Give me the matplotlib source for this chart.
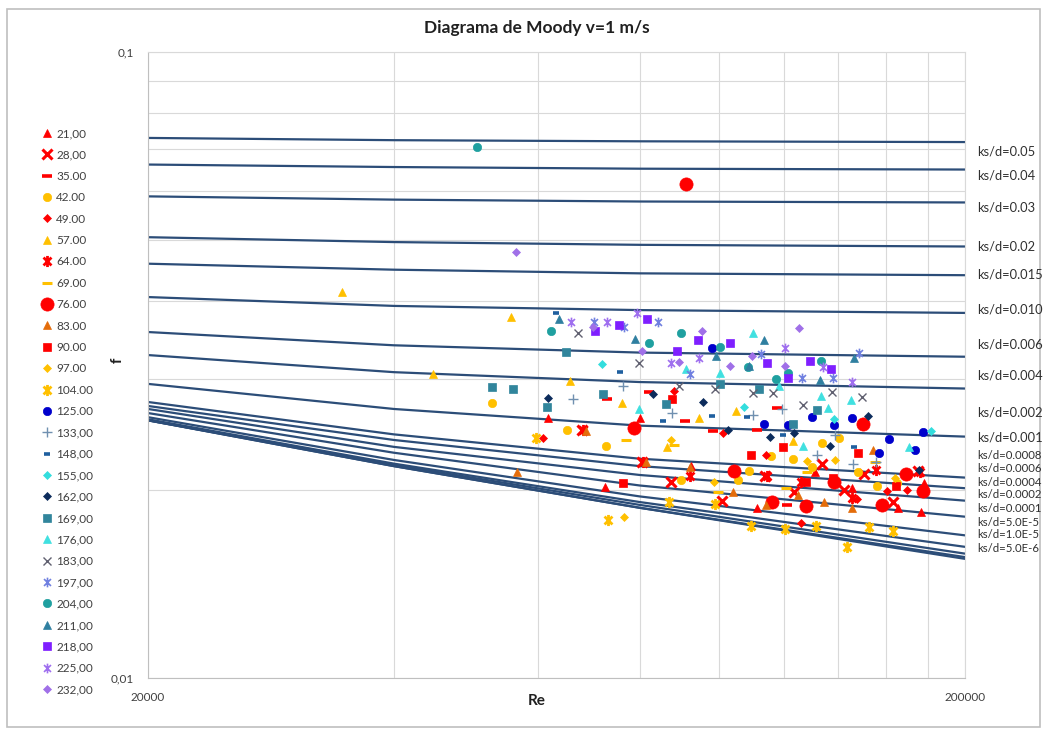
import matplotlib.pyplot as plt
from matplotlib.path import Path
from matplotlib.ticker import FixedLocator, NullFormatter
from matplotlib.patches import Rectangle

plt.rcParams['font.family'] = ['Lato', 'DejaVu Sans']

# ---- Moody lines (f read at a few Re values) ----
re_line = [20000, 40000, 80000, 200000]
ks_labels = ["ks/d=0.05", "ks/d=0.04", "ks/d=0.03", "ks/d=0.02", "ks/d=0.015",
             "ks/d=0.010", "ks/d=0.006", "ks/d=0.004", "ks/d=0.002", "ks/d=0.001",
             "ks/d=0.0008", "ks/d=0.0006", "ks/d=0.0004", "ks/d=0.0002",
             "ks/d=0.0001", "ks/d=5.0E-5", "ks/d=1.0E-5", "ks/d=5.0E-6"]
f_lines = [
    [0.0729, 0.0723, 0.0720, 0.0718],
    [0.0661, 0.0655, 0.0651, 0.0649],
    [0.0588, 0.0581, 0.0577, 0.0575],
    [0.0506, 0.0497, 0.0492, 0.0489],
    [0.0459, 0.0449, 0.0443, 0.0440],
    [0.0406, 0.0393, 0.0387, 0.0383],
    [0.0357, 0.0340, 0.0331, 0.0326],
    [0.0328, 0.0308, 0.0297, 0.0290],
    [0.0295, 0.0269, 0.0253, 0.0243],
    [0.0276, 0.0245, 0.0224, 0.0209],
    [0.0272, 0.0240, 0.0218, 0.0201],
    [0.0269, 0.0234, 0.0211, 0.0192],
    [0.0265, 0.0229, 0.0203, 0.0181],
    [0.0261, 0.0223, 0.0195, 0.0169],
    [0.0259, 0.0220, 0.0191, 0.0162],
    [0.0258, 0.0219, 0.0189, 0.0158],
    [0.0258, 0.0218, 0.0187, 0.0156],
    [0.0258, 0.0218, 0.0187, 0.0155],
]

# ---- measured points, one pair of lists per series ----
re_21 = [61700, 72500, 80000, 92500, 111300, 131100, 145500, 165600, 176700, 178200]
f_21 = [0.0260, 0.0202, 0.0260, 0.0218, 0.0187, 0.0213, 0.0201, 0.0187, 0.0184, 0.0205]
re_28 = [68000, 80500, 87400, 100900, 113800, 123500, 133600, 142200, 150500, 163400, 175200]
f_28 = [0.0249, 0.0221, 0.0206, 0.0192, 0.0210, 0.0198, 0.0220, 0.0200, 0.0212, 0.0191, 0.0214]
re_35 = [72900, 82100, 90900, 98300, 111300, 117700, 121000]
f_35 = [0.0279, 0.0286, 0.0257, 0.0248, 0.0249, 0.0270, 0.0189]
re_42 = [52700, 65200, 72700, 89900, 105500, 108800, 115700, 123100, 129900, 133600,
         140200, 148000, 156100, 165100]
f_42 = [0.0275, 0.0249, 0.0235, 0.0207, 0.0207, 0.0214, 0.0226, 0.0224, 0.0217, 0.0237,
        0.0242, 0.0213, 0.0203, 0.0205]
re_49 = [60800, 88100, 101200, 114100, 126000, 147600, 160500, 169800]
f_49 = [0.0242, 0.0287, 0.0246, 0.0227, 0.0177, 0.0193, 0.0199, 0.0200]
re_57 = [34600, 44700, 55600, 65700, 76000, 86400, 94500, 104900, 123100]
f_57 = [0.0413, 0.0306, 0.0377, 0.0298, 0.0275, 0.0234, 0.0260, 0.0267, 0.0239]
re_64 = [68200, 80700, 92200, 114400, 126000, 145500, 155700, 176200]
f_64 = [0.0249, 0.0221, 0.0210, 0.0210, 0.0206, 0.0194, 0.0215, 0.0213]
re_69 = [76900, 88100, 99700, 120800, 128100, 155100]
f_69 = [0.0240, 0.0236, 0.0198, 0.0201, 0.0213, 0.0221]
re_76 = [91100, 78600, 104300, 116100, 127800, 138300, 150100, 158300, 169400, 177700]
f_76 = [0.0615, 0.0251, 0.0214, 0.0191, 0.0188, 0.0206, 0.0255, 0.0189, 0.0212, 0.0199]
re_83 = [56600, 68800, 81400, 92200, 103900, 114100, 124900, 134400, 145500, 154400]
f_83 = [0.0213, 0.0248, 0.0221, 0.0217, 0.0198, 0.0189, 0.0196, 0.0191, 0.0187, 0.0231]
re_90 = [76200, 87600, 109400, 119700, 127800, 137900, 148000, 164600]
f_90 = [0.0205, 0.0279, 0.0227, 0.0234, 0.0206, 0.0209, 0.0229, 0.0203]
re_97 = [76400, 87400, 98500, 128100, 138700, 164100]
f_97 = [0.0181, 0.0240, 0.0206, 0.0222, 0.0223, 0.0209]
re_104 = [59700, 73100, 86900, 98800, 109400, 120400, 131400, 143400, 152700, 163400]
f_104 = [0.0242, 0.0179, 0.0191, 0.0190, 0.0175, 0.0173, 0.0175, 0.0162, 0.0174, 0.0172]
re_125 = [98000, 113500, 121400, 129900, 138300, 145500, 157000, 161400, 173800, 177700]
f_125 = [0.0337, 0.0255, 0.0254, 0.0261, 0.0254, 0.0260, 0.0229, 0.0241, 0.0231, 0.0247]
re_133 = [66300, 76200, 87600, 110000, 119300, 131800, 138700, 145900, 155700]
f_133 = [0.0279, 0.0293, 0.0265, 0.0263, 0.0269, 0.0227, 0.0244, 0.0220, 0.0221]
re_148 = [63200, 75600, 85400, 98000, 108200, 119700, 146300]
f_148 = [0.0383, 0.0308, 0.0257, 0.0262, 0.0261, 0.0244, 0.0234]
re_155 = [71900, 107300, 138300, 181700]
f_155 = [0.0317, 0.0271, 0.0259, 0.0248]
re_162 = [61700, 83100, 95600, 102600, 115400, 123500, 136700, 152200, 175700]
f_162 = [0.0280, 0.0284, 0.0276, 0.0249, 0.0243, 0.0246, 0.0235, 0.0262, 0.0215]
re_169 = [52800, 55900, 61500, 65000, 72100, 86200, 100300, 112000, 123100, 131800]
f_169 = [0.0292, 0.0289, 0.0271, 0.0332, 0.0284, 0.0274, 0.0295, 0.0290, 0.0255, 0.0268]
re_176 = [79800, 91100, 100300, 110000, 118400, 126700, 133200, 136000, 145100, 170800]
f_176 = [0.0269, 0.0312, 0.0307, 0.0356, 0.0293, 0.0235, 0.0282, 0.0270, 0.0278, 0.0234]
re_183 = [67200, 79800, 89400, 98800, 110000, 116400, 126700, 137500, 149600]
f_183 = [0.0356, 0.0318, 0.0293, 0.0290, 0.0285, 0.0285, 0.0273, 0.0286, 0.0281]
re_197 = [70300, 76600, 84200, 92200, 112600, 126300, 137900, 148400]
f_197 = [0.0370, 0.0364, 0.0370, 0.0306, 0.0329, 0.0301, 0.0302, 0.0331]
re_204 = [50500, 62300, 82100, 89900, 100300, 108500, 117400, 121400, 133200]
f_204 = [0.0705, 0.0358, 0.0343, 0.0356, 0.0338, 0.0314, 0.0300, 0.0307, 0.0321]
re_211 = [63700, 79000, 99100, 108800, 113500, 132900, 146300]
f_211 = [0.0375, 0.0348, 0.0327, 0.0315, 0.0347, 0.0299, 0.0325]
re_218 = [70500, 75400, 81600, 88800, 94200, 103200, 114400, 121400, 129200, 137100]
f_218 = [0.0358, 0.0366, 0.0374, 0.0333, 0.0347, 0.0343, 0.0318, 0.0301, 0.0321, 0.0312]
re_225 = [65900, 72900, 79300, 87400, 94500, 120400, 134000, 145500]
f_225 = [0.0370, 0.0370, 0.0383, 0.0318, 0.0324, 0.0337, 0.0314, 0.0297]
re_232 = [56400, 70100, 80500, 89400, 95400, 103200, 109700, 120400, 125200]
f_232 = [0.0479, 0.0364, 0.0333, 0.0320, 0.0359, 0.0315, 0.0327, 0.0315, 0.0362]

# excel-like "star" marker: an x with a vertical bar
star = Path([(-1, -1), (1, 1), (-1, 1), (1, -1), (0, -1.4), (0, 1.4)],
            [Path.MOVETO, Path.LINETO, Path.MOVETO, Path.LINETO, Path.MOVETO, Path.LINETO])

RED, GOLD = '#FF0000', '#FFC000'
# label, x, y, color, marker, size, edge width
series = [
    ("21,00", re_21, f_21, RED, '^', 6, 0.5),
    ("28,00", re_28, f_28, RED, 'x', 7, 2.2),
    ("35.00", re_35, f_35, RED, '_', 7, 2.6),
    ("42.00", re_42, f_42, GOLD, 'o', 6, 0.5),
    ("49.00", re_49, f_49, RED, 'D', 4.5, 0.5),
    ("57.00", re_57, f_57, GOLD, '^', 6, 0.5),
    ("64.00", re_64, f_64, RED, star, 8, 2.0),
    ("69.00", re_69, f_69, GOLD, '_', 7, 2.2),
    ("76.00", re_76, f_76, RED, 'o', 9.5, 0.5),
    ("83.00", re_83, f_83, '#E46C0A', '^', 6, 0.5),
    ("90.00", re_90, f_90, RED, 's', 6, 0.5),
    ("97.00", re_97, f_97, GOLD, 'D', 4.5, 0.5),
    ("104.00", re_104, f_104, GOLD, star, 8, 2.0),
    ("125.00", re_125, f_125, '#0000CC', 'o', 6, 0.5),
    ("133,00", re_133, f_133, '#7090B0', '+', 7, 1.0),
    ("148,00", re_148, f_148, '#1F5F9F', '_', 5, 2.6),
    ("155,00", re_155, f_155, '#33DDDD', 'D', 4.5, 0.5),
    ("162,00", re_162, f_162, '#0C2C5C', 'D', 4.5, 0.5),
    ("169,00", re_169, f_169, '#31859C', 's', 6, 0.5),
    ("176,00", re_176, f_176, '#40E0E0', '^', 6, 0.5),
    ("183,00", re_183, f_183, '#606070', 'x', 6, 1.0),
    ("197,00", re_197, f_197, '#7080E0', star, 7, 1.2),
    ("204,00", re_204, f_204, '#1FA0A0', 'o', 6, 0.5),
    ("211,00", re_211, f_211, '#2F7FA0', '^', 6, 0.5),
    ("218,00", re_218, f_218, '#7F1FFF', 's', 6, 0.5),
    ("225,00", re_225, f_225, '#9F6FEF', star, 7, 1.2),
    ("232,00", re_232, f_232, '#A070E8', 'D', 4.5, 0.5),
]

W, H = 1047, 730
fig = plt.figure(figsize=(W / 100, H / 100), dpi=100)
ax = fig.add_axes([148 / W, 1 - 678 / H, (965 - 148) / W, (678 - 52) / H])

for fl in f_lines:
    ax.plot(re_line, fl, color='#2C4D78', lw=1.6, zorder=2)

handles = []
for lab, xs, ys, col, mk, ms, mew in series:
    filled = not (mk is star or mk in ('x', '+', '_'))
    h, = ax.plot(xs, ys, ls='none', marker=mk, ms=ms, mew=mew, color=col,
                 mfc=col if filled else 'none', mec=col, label=lab, zorder=3)
    handles.append(h)

ax.set_xscale('log')
ax.set_yscale('log')
ax.set_xlim(20000, 200000)
ax.set_ylim(0.01, 0.1)

ax.xaxis.set_major_locator(FixedLocator([20000, 200000]))
ax.xaxis.set_minor_locator(FixedLocator([40000, 60000, 80000, 100000, 120000,
                                         140000, 160000, 180000]))
ax.set_xticklabels(['20000', '200000'])
ax.xaxis.set_minor_formatter(NullFormatter())
ax.yaxis.set_major_locator(FixedLocator([0.01, 0.1]))
ax.yaxis.set_minor_locator(FixedLocator([0.02, 0.03, 0.04, 0.05, 0.06, 0.07, 0.08, 0.09]))
ax.set_yticklabels(['0,01', '0,1'])
ax.yaxis.set_minor_formatter(NullFormatter())
ax.tick_params(which='both', length=0, labelsize=8.5, colors='#404040')
ax.tick_params(axis='x', pad=10)
ax.tick_params(axis='y', pad=10)
ax.grid(True, which='both', color='#D9D9D9', lw=0.8, zorder=0)
for s in ax.spines.values():
    s.set_color('#D9D9D9')
ax.spines['left'].set_color('#BFBFBF')
ax.spines['bottom'].set_color('#BFBFBF')

fig.text(537 / W, 1 - 28 / H, "Diagrama de Moody v=1 m/s", ha='center', va='center',
         fontsize=12.5, fontweight='bold', color='#202020')
fig.text(537 / W, 1 - 701 / H, "Re", ha='center', va='center',
         fontsize=11, fontweight='bold', color='#202020')
fig.text(118 / W, 1 - 360 / H, "f", ha='center', va='center', rotation=90,
         fontsize=11, fontweight='bold', color='#202020')

# right-hand labels for the roughness lines
label_y = [152, 175, 208, 246, 275, 309, 344, 376, 413, 438,
           455, 469, 482, 494, 509, 522, 535, 548]
label_fs = [9.3] * 10 + [8.2] * 8
for txt, yy, fs in zip(ks_labels, label_y, label_fs):
    fig.text(977 / W, 1 - yy / H, txt, ha='left', va='center', fontsize=fs,
             color='#303030')

leg = fig.legend(handles=handles, loc='upper left', bbox_to_anchor=(42 / W, 1 - 128 / H),
                 frameon=False, fontsize=8.5, handlelength=0.8, handletextpad=0.4,
                 labelspacing=0.88, borderpad=0, borderaxespad=0)
for t in leg.get_texts():
    t.set_color('#404040')

# outer chart frame like the spreadsheet chart area
fig.patches.append(Rectangle((7 / W, 1 - 727 / H), (1040 - 7) / W, (727 - 9) / H,
                             transform=fig.transFigure, fill=False, ec='#BFBFBF', lw=1.2))

fig.savefig('out.png', dpi=100)
